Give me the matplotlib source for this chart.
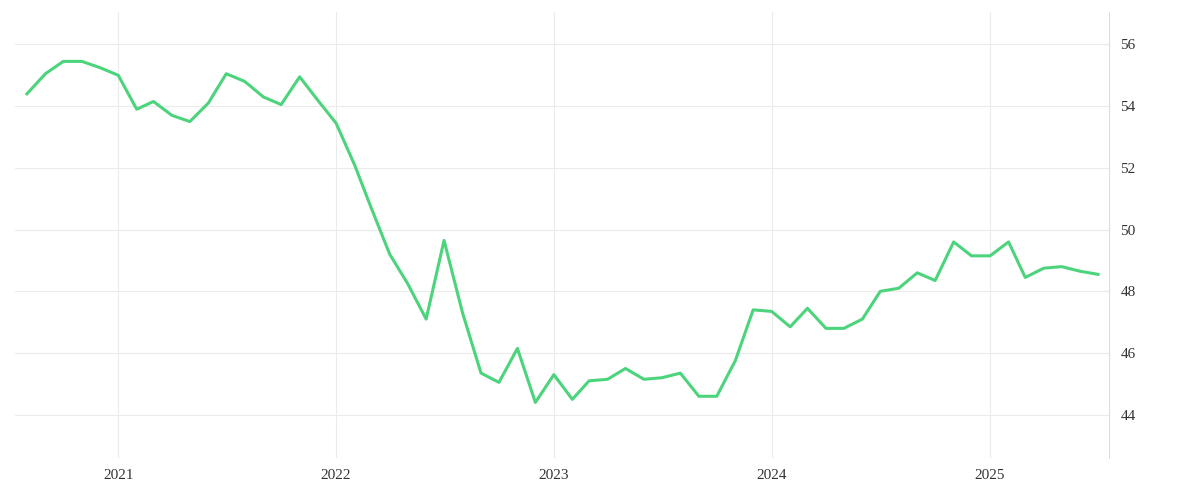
import matplotlib
matplotlib.use("Agg")
import matplotlib.pyplot as plt
import matplotlib.dates as mdates
import pandas as pd

dates = pd.date_range("2020-08-01", "2025-07-01", freq="MS")
values = [54.4, 55.05, 55.45, 55.45, 55.25, 55.0, 53.9, 54.15, 53.7, 53.5,
          54.1, 55.05, 54.8, 54.3, 54.05, 54.95, 54.2, 53.45, 52.1, 50.7,
          49.2, 48.25, 47.1, 49.65, 47.3, 45.35, 45.05, 46.15, 44.4, 45.3,
          44.5, 45.1, 45.15, 45.5, 45.15, 45.2, 45.35, 44.6, 44.6, 45.75,
          47.4, 47.35, 46.85, 47.45, 46.8, 46.8, 47.1, 48.0, 48.1, 48.6,
          48.35, 49.6, 49.15, 49.15, 49.6, 48.45, 48.75, 48.8, 48.65, 48.55]
yticks = [44, 46, 48, 50, 52, 54, 56]

plt.rcParams['font.family'] = ['Liberation Serif', 'DejaVu Serif']
fig = plt.figure(figsize=(12, 5), dpi=100)
ax = fig.add_axes([0.0125, 0.084, 0.912, 0.892])
ax.plot(dates, values, color="#4cd47c", lw=2.2)
ax.set_ylim(42.6, 57.05)
ax.set_xlim(pd.Timestamp("2020-07-12"), pd.Timestamp("2025-07-20"))
ax.set_yticks(yticks)
ax.yaxis.tick_right()
ax.xaxis.set_major_locator(mdates.YearLocator())
ax.xaxis.set_major_formatter(mdates.DateFormatter("%Y"))
ax.grid(True, color="#ebebeb", lw=0.8)
for s in ["top", "left", "bottom"]:
    ax.spines[s].set_visible(False)
ax.spines["right"].set_color("#dddddd")
ax.axhline(42.6, color="#ebebeb", lw=0.8)
ax.tick_params(length=0, labelsize=11, colors="#333333", pad=8)
fig.savefig("out.png")
